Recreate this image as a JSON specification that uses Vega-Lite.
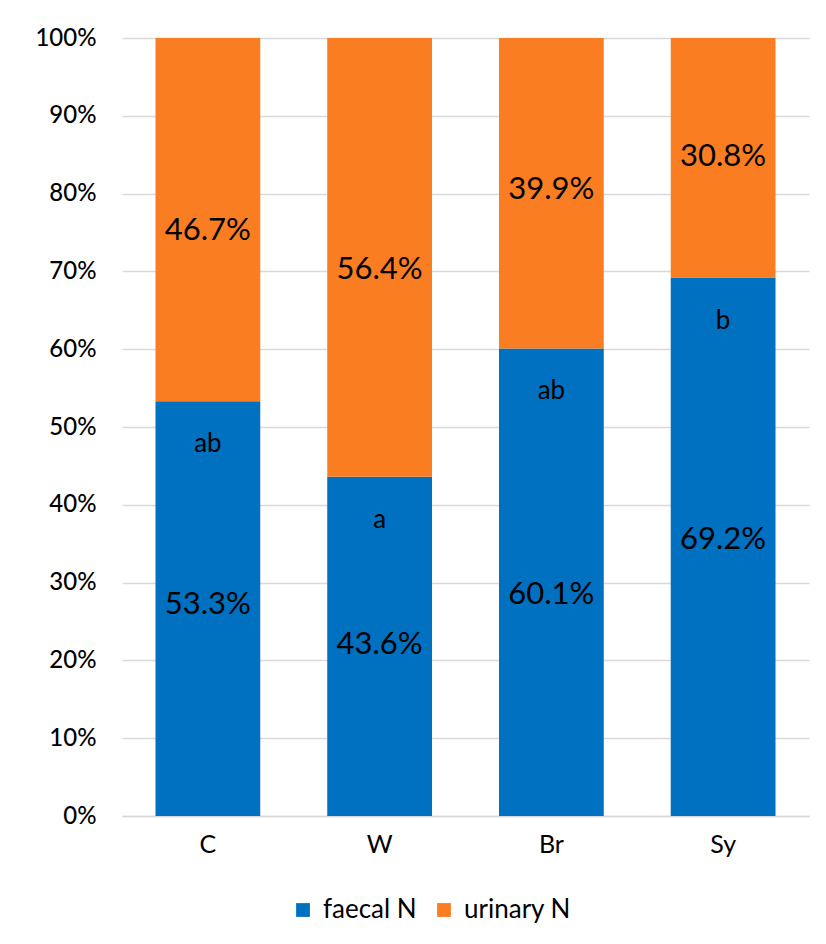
{
  "$schema": "https://vega.github.io/schema/vega-lite/v6.json",
  "width": 687,
  "height": 778,
  "autosize": {"type": "none"},
  "padding": {"left": 122, "top": 38, "right": 17, "bottom": 128},
  "background": "white",
  "config": {"view": {"stroke": null}},
  "data": {
    "values": [
      {"group": "C", "type": "faecal N", "order": 1, "value": 0.533, "labelPos": 0.271, "pct": "53.3%", "letter": "ab"},
      {"group": "C", "type": "urinary N", "order": 2, "value": 0.467, "labelPos": 0.752, "pct": "46.7%", "letter": ""},
      {"group": "W", "type": "faecal N", "order": 1, "value": 0.436, "labelPos": 0.220, "pct": "43.6%", "letter": "a"},
      {"group": "W", "type": "urinary N", "order": 2, "value": 0.564, "labelPos": 0.702, "pct": "56.4%", "letter": ""},
      {"group": "Br", "type": "faecal N", "order": 1, "value": 0.601, "labelPos": 0.284, "pct": "60.1%", "letter": "ab"},
      {"group": "Br", "type": "urinary N", "order": 2, "value": 0.399, "labelPos": 0.805, "pct": "39.9%", "letter": ""},
      {"group": "Sy", "type": "faecal N", "order": 1, "value": 0.692, "labelPos": 0.355, "pct": "69.2%", "letter": "b"},
      {"group": "Sy", "type": "urinary N", "order": 2, "value": 0.308, "labelPos": 0.847, "pct": "30.8%", "letter": ""}
    ]
  },
  "encoding": {
    "x": {
      "field": "group", "type": "nominal", "sort": null,
      "scale": {"paddingInner": 0.39, "paddingOuter": 0.195},
      "axis": {"title": null, "labelAngle": 0, "labelFont": "Lato", "labelFontSize": 25, "labelColor": "#000000", "labelPadding": 16, "ticks": false, "domainColor": "#d9d9d9", "domainWidth": 1.5}
    }
  },
  "layer": [
    {
      "mark": {"type": "bar"},
      "encoding": {
        "y": {
          "field": "value", "type": "quantitative", "stack": "zero",
          "scale": {"domain": [0, 1]},
          "axis": {"title": null, "format": "%", "values": [0, 0.1, 0.2, 0.3, 0.4, 0.5, 0.6, 0.7, 0.8, 0.9, 1], "labelFont": "Lato", "labelFontSize": 24, "labelFontWeight": 500, "labelColor": "#000000", "labelPadding": 26, "ticks": false, "domain": false, "gridColor": "#d9d9d9", "gridWidth": 1.5}
        },
        "color": {
          "field": "type", "type": "nominal",
          "scale": {"domain": ["faecal N", "urinary N"], "range": ["#0070C0", "#FA7D22"]},
          "legend": {"title": null, "orient": "none", "legendX": 168, "legendY": 859, "direction": "horizontal", "symbolType": "square", "symbolSize": 190, "symbolStrokeWidth": 0, "labelFont": "Lato", "labelFontSize": 26, "labelColor": "#000000", "columnPadding": 14, "labelOffset": 7}
        },
        "order": {"field": "order", "type": "quantitative"}
      }
    },
    {
      "mark": {"type": "text", "font": "Lato", "fontSize": 31, "color": "#000000"},
      "encoding": {
        "y": {"field": "labelPos", "type": "quantitative", "stack": null},
        "text": {"field": "pct"}
      }
    },
    {
      "transform": [{"filter": "datum.letter != ''"}],
      "mark": {"type": "text", "font": "Lato", "fontSize": 26, "color": "#000000", "dy": 43},
      "encoding": {
        "y": {"field": "value", "type": "quantitative", "stack": null},
        "text": {"field": "letter"}
      }
    }
  ]
}
